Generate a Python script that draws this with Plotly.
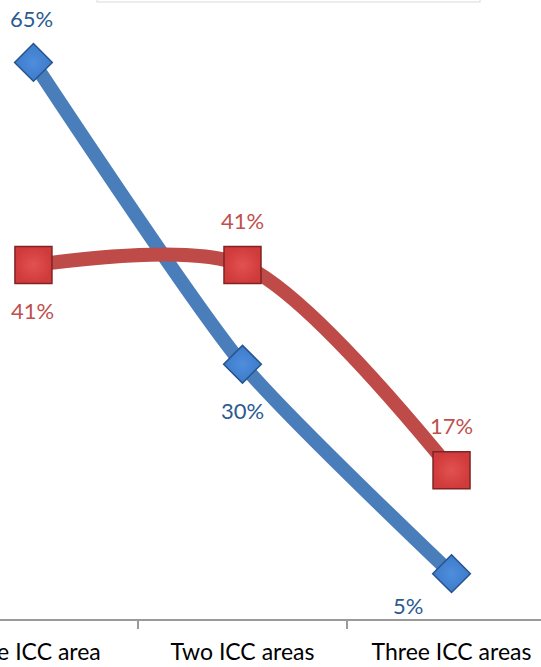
import plotly.graph_objects as go

categories = ["One ICC area", "Two ICC areas", "Three ICC areas"]
series_blue = [65.1, 29.8, 5.3]
series_red = [41.4, 41.4, 17.4]

BLUE_LINE = "#4A7EBB"
RED_LINE = "#BE4B48"
BLUE_TXT = "#2C5A91"
RED_TXT = "#C0504D"
FONT = "Lato, Liberation Sans, Arial, sans-serif"

fig = go.Figure()

fig.add_trace(go.Scatter(
    x=categories, y=series_blue, mode="lines+markers",
    line=dict(color=BLUE_LINE, width=14, shape="spline", smoothing=0.6),
    marker=dict(symbol="diamond", size=29, color="#3D7BCB",
                line=dict(color="#27548F", width=1.5),
                gradient=dict(type="radial", color="#4F8EDC")),
    showlegend=False, hoverinfo="skip"))

fig.add_trace(go.Scatter(
    x=categories, y=series_red, mode="lines+markers",
    line=dict(color=RED_LINE, width=14, shape="spline", smoothing=0.8),
    marker=dict(symbol="square", size=37, color="#D03A3A",
                line=dict(color="#7E2424", width=1.5),
                gradient=dict(type="radial", color="#E25252")),
    showlegend=False, hoverinfo="skip"))

# data labels
blue_offsets = [(-2, 44), (0, -46), (-44, -32)]
red_offsets = [(-1, -45), (0, 45), (0, 45)]
for c, v, (dx, dy) in zip(categories, series_blue, blue_offsets):
    fig.add_annotation(x=c, y=v, text=f"{round(v)}%", showarrow=False,
                       xshift=dx, yshift=dy,
                       font=dict(family=FONT, size=22, color=BLUE_TXT))
for c, v, (dx, dy) in zip(categories, series_red, red_offsets):
    fig.add_annotation(x=c, y=v, text=f"{round(v)}%", showarrow=False,
                       xshift=dx, yshift=dy,
                       font=dict(family=FONT, size=22, color=RED_TXT))

# legend box edge (cropped at the top)
fig.add_shape(type="rect", xref="paper", yref="paper",
              x0=97 / 541, x1=480 / 541, y0=1 - 2 / 619, y1=1.2,
              line=dict(color="#E6E6E6", width=1.5), fillcolor="white",
              layer="below")

fig.update_layout(
    width=541, height=667,
    margin=dict(l=0, r=0, t=0, b=48, autoexpand=False),
    paper_bgcolor="white", plot_bgcolor="white",
    font=dict(family=FONT, size=22, color="#000000"),
    xaxis=dict(type="category", range=[-0.160, 2.428], automargin=False,
               tickson="boundaries", ticks="outside", ticklen=8,
               tickcolor="#9A9A9A", tickwidth=1.5, ticklabelstandoff=12,
               showline=True, linecolor="#9A9A9A", linewidth=1.5,
               showgrid=False, zeroline=False,
               tickfont=dict(family=FONT, size=23, color="#000000")),
    yaxis=dict(range=[0, 72.4], visible=False, showgrid=False, zeroline=False,
               automargin=False),
)

fig.write_html("out.html")
